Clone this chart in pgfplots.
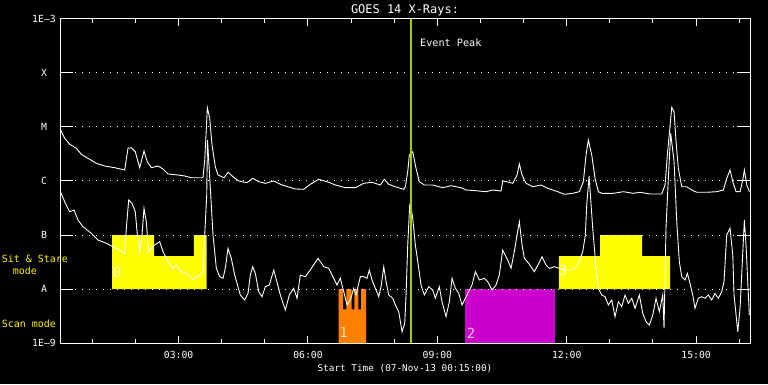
\documentclass[border=0pt]{standalone}
\usepackage{fontspec}
\setmainfont{DejaVu Sans Mono}
\usepackage{pgfplots}
\pgfplotsset{compat=1.18}
\definecolor{evgreen}{RGB}{160,205,0}
\definecolor{boxyellow}{RGB}{255,255,0}
\definecolor{boxorange}{RGB}{255,128,0}
\definecolor{boxmag}{RGB}{204,0,204}
\definecolor{lbl0}{RGB}{255,255,200}
\definecolor{lbl1}{RGB}{255,225,190}
\definecolor{lbl2}{RGB}{245,200,245}
\begin{document}
\begin{tikzpicture}[x=1bp,y=1bp]
\fill[black] (0,0) rectangle (768,384);
\begin{axis}[
  at={(60bp,41bp)}, anchor=south west,
  scale only axis, width=690bp, height=324bp,
  xmin=0.25, xmax=16.25, ymin=-9, ymax=-3,
  axis line style={white, line width=1bp},
  xtick={3,6,9,12,15}, xticklabels={03:00,06:00,09:00,12:00,15:00},
  minor xtick={1,2,4,5,7,8,10,11,13,14,16},
  ytick={-9,-8,-7,-6,-5,-4,-3}, yticklabels={1E--9,A,B,C,M,X,1E--3},
  tick pos=both, tick align=inside,
  major tick length=7bp, minor tick length=4bp,
  tick style={white, line width=1bp},
  ticklabel style={text=white, font=\fontsize{9.8}{11}\selectfont},
  xticklabel style={anchor=center, yshift=-12bp},
  yticklabel style={anchor=center, xshift=-16bp},
]
% observing-mode boxes
\addplot[fill=boxyellow, draw=none] coordinates {(1.456,-8) (1.456,-7) (2.430,-7) (2.430,-7.389) (3.357,-7.389) (3.357,-7) (3.652,-7) (3.652,-8)} -- cycle;
\addplot[fill=boxyellow, draw=none] coordinates {(11.815,-8) (11.815,-7.389) (12.773,-7.389) (12.773,-7) (13.747,-7) (13.747,-7.389) (14.396,-7.389) (14.396,-8)} -- cycle;
\addplot[fill=boxorange, draw=none] coordinates {(6.713,-9) (6.713,-8) (6.813,-8) (6.813,-8.376) (6.889,-8.376) (6.889,-8) (7.015,-8) (7.015,-8.376) (7.075,-8.376) (7.075,-8) (7.168,-8) (7.168,-8.376) (7.230,-8.376) (7.230,-8) (7.346,-8) (7.346,-9)} -- cycle;
\addplot[fill=boxmag, draw=none] coordinates {(9.642,-9) (9.642,-8) (11.729,-8) (11.729,-9)} -- cycle;
% grid lines and long y ticks
\pgfplotsinvokeforeach{-8,-7,-6,-5,-4}{
  \draw[white, line width=1bp, dash pattern=on 1bp off 6bp] (axis cs:0.60,#1) -- (axis cs:15.93,#1);
  \draw[white, line width=1bp] (axis cs:0.25,#1) -- (axis cs:0.551,#1);
  \draw[white, line width=1bp] (axis cs:15.949,#1) -- (axis cs:16.25,#1);
}
% box labels
\node[text=lbl0, inner sep=0, font=\fontsize{14}{16}\selectfont] at (axis cs:1.572,-7.685) {0};
\node[text=lbl1, inner sep=0, font=\fontsize{14}{16}\selectfont] at (axis cs:6.824,-8.796) {1};
\node[text=lbl2, inner sep=0, font=\fontsize{14}{16}\selectfont] at (axis cs:9.780,-8.815) {2};
\node[text=lbl0, inner sep=0, font=\fontsize{14}{16}\selectfont] at (axis cs:11.91,-7.648) {3};
% long channel
\addplot[white, line width=0.9bp] coordinates {
(0.266,-5.056) (0.359,-5.209) (0.475,-5.320) (0.628,-5.394) (0.744,-5.506) (0.899,-5.580) (1.092,-5.672) (1.287,-5.722) (1.518,-5.754) (1.750,-5.796) (1.827,-5.394) (1.903,-5.383) (1.996,-5.457) (2.098,-5.754) (2.198,-5.444) (2.274,-5.643) (2.367,-5.754) (2.523,-5.722) (2.639,-5.778) (2.754,-5.870) (2.986,-5.889) (3.142,-5.907) (3.295,-5.939) (3.566,-5.939) (3.606,-5.611) (3.643,-5.024) (3.666,-4.643) (3.722,-4.839) (3.775,-5.333) (3.851,-5.735) (3.914,-5.889) (4.053,-5.939) (4.146,-5.839) (4.262,-5.920) (4.394,-6.000) (4.587,-6.031) (4.719,-5.950) (4.858,-6.013) (5.011,-6.043) (5.206,-6.000) (5.398,-6.074) (5.707,-6.148) (5.901,-6.154) (6.054,-6.061) (6.249,-5.969) (6.481,-6.024) (6.634,-6.074) (6.866,-6.124) (7.098,-6.124) (7.293,-6.043) (7.485,-6.024) (7.678,-6.074) (7.771,-5.969) (7.873,-6.061) (8.026,-6.106) (8.220,-6.154) (8.258,-6.106) (8.313,-5.828) (8.350,-5.519) (8.429,-5.457) (8.506,-5.765) (8.582,-6.013) (8.698,-6.074) (8.893,-6.074) (9.125,-6.124) (9.317,-6.087) (9.549,-6.124) (9.665,-6.167) (9.897,-6.180) (10.129,-6.198) (10.284,-6.167) (10.477,-6.185) (10.516,-6.000) (10.669,-6.024) (10.748,-6.043) (10.848,-5.889) (10.902,-5.685) (10.964,-5.889) (11.057,-6.043) (11.212,-6.106) (11.404,-6.074) (11.560,-6.135) (11.792,-6.198) (11.945,-6.246) (12.140,-6.228) (12.293,-6.198) (12.385,-6.013) (12.448,-5.519) (12.501,-5.241) (12.580,-5.519) (12.657,-5.950) (12.733,-6.198) (12.812,-6.228) (13.081,-6.228) (13.313,-6.198) (13.545,-6.228) (13.700,-6.209) (13.932,-6.241) (14.203,-6.241) (14.280,-6.074) (14.333,-5.519) (14.380,-5.117) (14.435,-4.635) (14.489,-4.717) (14.535,-5.272) (14.588,-5.765) (14.667,-6.106) (14.783,-6.106) (14.899,-6.167) (15.015,-6.209) (15.247,-6.209) (15.479,-6.198) (15.632,-6.167) (15.711,-5.950) (15.787,-5.796) (15.850,-6.013) (15.927,-6.198) (16.019,-6.198) (16.082,-5.981) (16.119,-5.796) (16.175,-6.074) (16.235,-6.198)
};
% short channel
\addplot[white, line width=0.9bp] coordinates {
(0.266,-6.209) (0.359,-6.383) (0.475,-6.569) (0.575,-6.537) (0.667,-6.722) (0.783,-6.846) (0.976,-6.969) (1.131,-7.093) (1.324,-7.154) (1.479,-7.217) (1.634,-7.278) (1.750,-7.339) (1.788,-6.876) (1.843,-6.352) (1.920,-6.413) (1.996,-6.569) (2.043,-7.000) (2.098,-7.309) (2.152,-7.000) (2.198,-6.506) (2.251,-6.754) (2.307,-7.309) (2.367,-7.246) (2.446,-7.185) (2.562,-7.124) (2.639,-7.309) (2.754,-7.494) (2.870,-7.617) (2.947,-7.556) (3.063,-7.680) (3.179,-7.709) (3.334,-7.820) (3.450,-7.772) (3.566,-7.680) (3.606,-7.000) (3.652,-6.259) (3.670,-5.241) (3.745,-6.259) (3.798,-7.000) (3.875,-7.617) (3.953,-7.772) (4.030,-7.802) (4.083,-7.617) (4.146,-7.246) (4.222,-7.431) (4.301,-7.741) (4.431,-8.111) (4.533,-8.204) (4.610,-8.080) (4.663,-7.741) (4.719,-7.587) (4.779,-7.709) (4.858,-8.050) (4.934,-8.143) (5.011,-7.957) (5.104,-7.926) (5.206,-7.648) (5.259,-7.802) (5.359,-8.111) (5.475,-8.389) (5.567,-8.111) (5.669,-7.987) (5.746,-8.172) (5.822,-7.741) (5.938,-7.772) (6.054,-7.648) (6.233,-7.431) (6.365,-7.587) (6.481,-7.617) (6.558,-7.741) (6.673,-7.926) (6.750,-7.802) (6.829,-8.050) (6.906,-8.296) (6.982,-8.204) (7.061,-7.987) (7.114,-8.111) (7.214,-7.772) (7.293,-7.772) (7.369,-7.802) (7.423,-7.648) (7.485,-7.833) (7.562,-7.987) (7.641,-8.143) (7.701,-7.926) (7.757,-7.587) (7.810,-7.865) (7.873,-8.111) (7.965,-8.172) (8.026,-8.296) (8.104,-8.420) (8.181,-8.791) (8.244,-8.635) (8.274,-8.111) (8.313,-7.185) (8.359,-6.444) (8.378,-6.407) (8.429,-6.691) (8.490,-7.185) (8.568,-7.617) (8.621,-7.926) (8.698,-8.111) (8.800,-7.957) (8.893,-8.019) (8.953,-8.172) (9.046,-7.957) (9.108,-8.235) (9.201,-8.513) (9.278,-8.235) (9.341,-7.802) (9.417,-7.987) (9.496,-8.080) (9.572,-8.296) (9.649,-8.172) (9.728,-8.050) (9.804,-7.926) (9.881,-7.680) (9.974,-7.833) (10.090,-7.802) (10.168,-7.865) (10.268,-8.019) (10.361,-7.926) (10.437,-7.741) (10.516,-7.278) (10.632,-7.463) (10.709,-7.617) (10.785,-7.309) (10.848,-7.000) (10.902,-6.754) (10.964,-7.185) (11.017,-7.431) (11.119,-7.524) (11.249,-7.680) (11.351,-7.524) (11.427,-7.402) (11.520,-7.556) (11.596,-7.617) (11.712,-7.587) (11.828,-7.617) (11.984,-7.648) (12.140,-7.648) (12.256,-7.556) (12.371,-7.309) (12.432,-7.000) (12.464,-6.444) (12.518,-5.907) (12.603,-6.876) (12.680,-7.617) (12.733,-7.987) (12.812,-8.111) (12.889,-8.143) (12.965,-8.296) (13.044,-8.204) (13.120,-8.513) (13.197,-8.235) (13.276,-8.328) (13.352,-8.111) (13.429,-8.265) (13.508,-8.172) (13.584,-8.357) (13.684,-8.111) (13.763,-8.450) (13.840,-8.606) (13.916,-8.667) (13.995,-8.481) (14.071,-8.172) (14.148,-8.420) (14.226,-8.111) (14.256,-8.728) (14.302,-6.876) (14.356,-5.950) (14.411,-5.117) (14.489,-5.643) (14.551,-6.754) (14.611,-7.494) (14.667,-7.772) (14.743,-7.833) (14.796,-7.709) (14.859,-7.894) (14.922,-8.111) (14.975,-8.357) (15.051,-8.172) (15.130,-8.143) (15.206,-8.172) (15.283,-8.111) (15.362,-8.204) (15.438,-8.080) (15.515,-8.172) (15.594,-8.050) (15.647,-7.865) (15.710,-7.000) (15.787,-6.876) (15.850,-7.370) (15.880,-8.111) (15.927,-8.481) (15.966,-8.791) (16.019,-8.357) (16.072,-7.494) (16.119,-6.722) (16.158,-7.185) (16.197,-7.865) (16.235,-8.481)
};
% event peak
\addplot[evgreen, line width=2bp] coordinates {(8.389,-9) (8.389,-3)};
\node[anchor=west, inner sep=0, text=white, font=\fontsize{10.2}{12}\selectfont] at (axis cs:8.598,-3.444) {Event Peak};
\end{axis}
\node[text=white, font=\fontsize{12}{14}\selectfont] at (405,374) {GOES 14 X-Rays:};
\node[text=white, font=\fontsize{9.4}{11}\selectfont] at (405,15.7) {Start Time (07-Nov-13 00:15:00)};
\node[anchor=west, inner sep=0, text=yellow, font=\fontsize{10}{12}\selectfont] at (1.7,125) {Sit \& Stare};
\node[anchor=west, inner sep=0, text=yellow, font=\fontsize{10}{12}\selectfont] at (12.7,113) {mode};
\node[anchor=west, inner sep=0, text=yellow, font=\fontsize{10}{12}\selectfont] at (1.7,60) {Scan mode};
\pgfresetboundingbox
\path (0,0) rectangle (768,384);
\end{tikzpicture}
\end{document}
